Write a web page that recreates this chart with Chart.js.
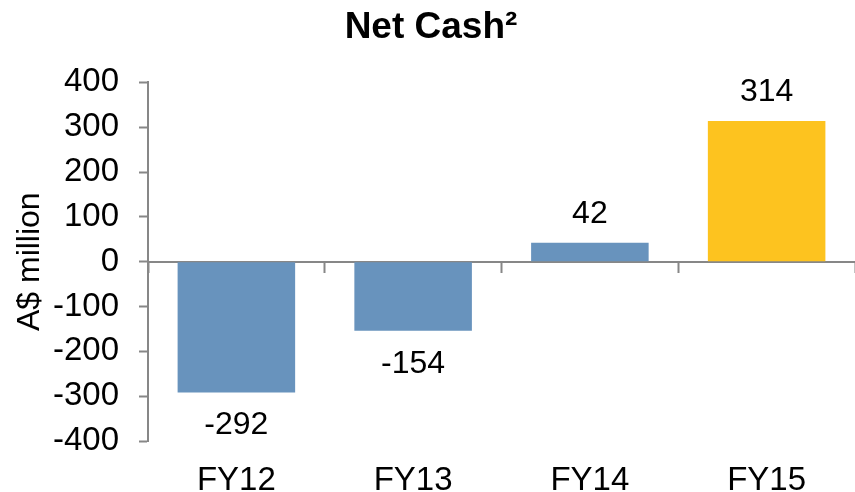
<!DOCTYPE html>
<html>
<head>
<meta charset="utf-8">
<script src="https://cdn.jsdelivr.net/npm/chart.js@4.4.0/dist/chart.umd.min.js"></script>
<style>
  html, body { margin: 0; padding: 0; background: #fff; }
  #wrap { width: 855px; height: 492px; }
</style>
</head>
<body>
<div id="wrap"><canvas id="c"></canvas></div>
<script>
const categories = ['FY12', 'FY13', 'FY14', 'FY15'];
const netCash = [-292, -154, 42, 314];
const barColors = ['#6893BD', '#6893BD', '#6893BD', '#FDC31F'];
const yTicks = [-400, -300, -200, -100, 0, 100, 200, 300, 400];

const FONT = "'Liberation Sans', Arial, sans-serif";
const AXIS_GREY = '#878787';

// value labels above positive bars, below negative ones
const valueLabels = {
  id: 'valueLabels',
  afterDatasetsDraw(chart) {
    const ctx = chart.ctx;
    const meta = chart.getDatasetMeta(0);
    ctx.save();
    ctx.font = '32px ' + FONT;
    ctx.fillStyle = '#000';
    ctx.textAlign = 'center';
    ctx.textBaseline = 'middle';
    meta.data.forEach((bar, i) => {
      const v = netCash[i];
      const y = v >= 0 ? bar.y - 29 : bar.y + 33;
      ctx.fillText(String(v), bar.x, y);
    });
    ctx.restore();
  }
};

new Chart(document.getElementById('c'), {
  type: 'bar',
  data: {
    labels: categories,
    datasets: [{
      data: netCash,
      backgroundColor: barColors,
      borderWidth: 0,
      categoryPercentage: 1,
      barPercentage: 0.665,
      xAxisID: 'x',
      yAxisID: 'y'
    }]
  },
  options: {
    responsive: true,
    maintainAspectRatio: false,
    animation: false,
    layout: { padding: { left: 7, right: 0, top: 0, bottom: 2 } },
    plugins: {
      legend: { display: false },
      tooltip: { enabled: false },
      title: {
        display: true,
        text: 'Net Cash²',
        color: '#000',
        font: { family: FONT, size: 37, weight: 'bold' },
        padding: { top: 6, bottom: 32 }
      }
    },
    scales: {
      // axis line sitting on zero, with category tick marks
      x: {
        type: 'category',
        position: { y: 0 },
        ticks: { display: false },
        grid: {
          display: true,
          drawOnChartArea: false,
          drawTicks: true,
          tickLength: 10,
          tickWidth: 2,
          color: AXIS_GREY,
          offset: true
        },
        border: { display: true, color: AXIS_GREY, width: 2 }
      },
      // category labels at the bottom
      x2: {
        type: 'category',
        labels: categories,
        position: 'bottom',
        offset: true,
        grid: { display: false, drawTicks: false },
        border: { display: false },
        ticks: {
          color: '#000',
          font: { family: FONT, size: 33 },
          padding: 20,
          maxRotation: 0
        },
        afterFit(axis) { axis.height = 49; }
      },
      y: {
        min: -400,
        max: 400,
        afterBuildTicks(axis) {
          axis.ticks = yTicks.map(v => ({ value: v }));
        },
        afterFit(axis) { axis.width = 141; },
        ticks: {
          color: '#000',
          font: { family: FONT, size: 33 },
          padding: 20
        },
        grid: {
          display: true,
          drawOnChartArea: false,
          drawTicks: true,
          tickLength: 9,
          tickWidth: 2,
          color: AXIS_GREY
        },
        border: { display: true, color: AXIS_GREY, width: 2 },
        title: {
          display: true,
          text: 'A$ million',
          color: '#000',
          font: { family: FONT, size: 32 },
          padding: { top: 4, bottom: 4 }
        }
      }
    }
  },
  plugins: [valueLabels]
});
</script>
</body>
</html>
